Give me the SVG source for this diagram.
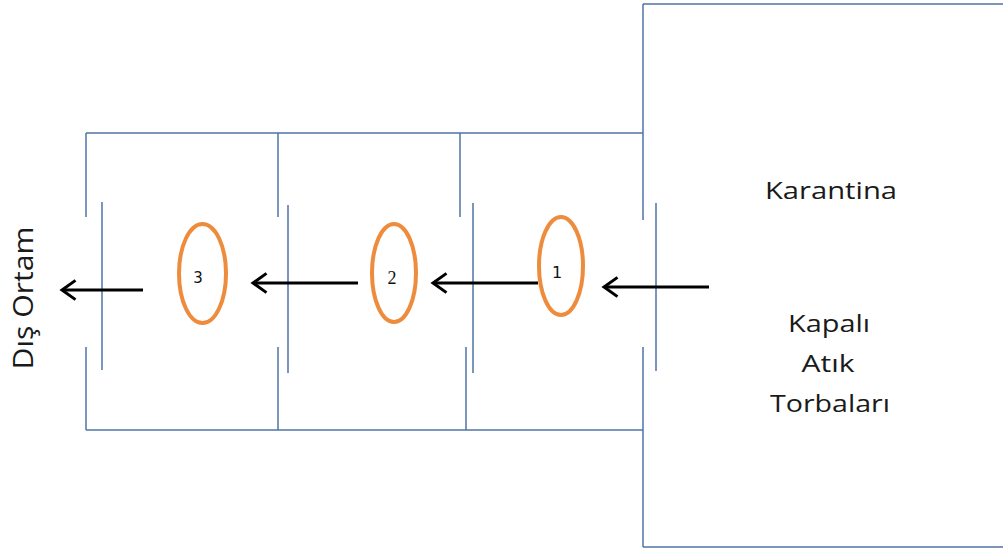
<svg xmlns="http://www.w3.org/2000/svg" width="1003" height="552" viewBox="0 0 1003 552">
<defs>
<style>
.wall{stroke:#4F74A8;stroke-width:1.5;fill:none}
.door{stroke:#4F74A8;stroke-width:1.5;fill:none}
.bag{fill:none;stroke:#EE8C3E;stroke-width:4}
.arr{stroke:#000;stroke-width:3;fill:none;marker-end:url(#ah)}
.lbl{font-family:"Open Sans","DejaVu Sans",sans-serif;font-size:24px;fill:#1a1a1a;text-anchor:middle}
.num{font-family:"DejaVu Sans",sans-serif;font-size:16px;fill:#111;text-anchor:middle}
</style>
<marker id="ah" markerWidth="8" markerHeight="8" viewBox="0 0 8 8" refX="7" refY="4" orient="auto" markerUnits="strokeWidth">
<path d="M2.5,0.8 L7,4 L2.5,7.2" fill="none" stroke="#000" stroke-width="1"/>
</marker>
</defs>
<rect width="1003" height="552" fill="#fff"/>
<g id="walls">
<path class="wall" d="M86,133 H643 M86,430 H643 M643,4 H1010 M643,547 H1010"/>
<path class="wall" d="M86,133 V217 M86,347 V430 M278,133 V217 M278,347 V430 M460,133 V217 M466,347 V430 M643,4 V220 M643,347 V547"/>
<path class="door" d="M102,202 V370 M288,205 V373 M473,203 V373 M656,203 V371"/>
</g>
<g id="node-karantina">
<text class="lbl" x="831" y="199" textLength="132" lengthAdjust="spacingAndGlyphs">Karantina</text>
<text class="lbl" x="829" y="332" textLength="82" lengthAdjust="spacingAndGlyphs">Kapalı</text>
<text class="lbl" x="828" y="372" textLength="53" lengthAdjust="spacingAndGlyphs">Atık</text>
<text class="lbl" x="830" y="412" textLength="120" lengthAdjust="spacingAndGlyphs">Torbaları</text>
</g>
<g id="node-dis-ortam">
<text class="lbl" transform="translate(33,298) rotate(-90)" x="0" y="0" textLength="143" lengthAdjust="spacingAndGlyphs" style="font-size:27px">Dış Ortam</text>
</g>
<g id="node-1">
<ellipse class="bag" cx="561" cy="266" rx="22" ry="49"/>
<text class="num" x="557" y="278">1</text>
</g>
<g id="node-2">
<ellipse class="bag" cx="394" cy="273" rx="22" ry="49"/>
<text class="num" x="392" y="284" style="font-family:'Liberation Serif',serif;font-size:18px">2</text>
</g>
<g id="node-3">
<ellipse class="bag" cx="202.5" cy="273.5" rx="23.5" ry="49.5"/>
<text class="num" x="198" y="283" style="font-size:15px">3</text>
</g>
<g id="connectors">
<line class="arr" x1="709" y1="287" x2="604" y2="287"/>
<line class="arr" x1="538" y1="283" x2="433" y2="283"/>
<line class="arr" x1="358" y1="283" x2="253" y2="283"/>
<line class="arr" x1="143" y1="290" x2="62" y2="290"/>
</g>
</svg>
